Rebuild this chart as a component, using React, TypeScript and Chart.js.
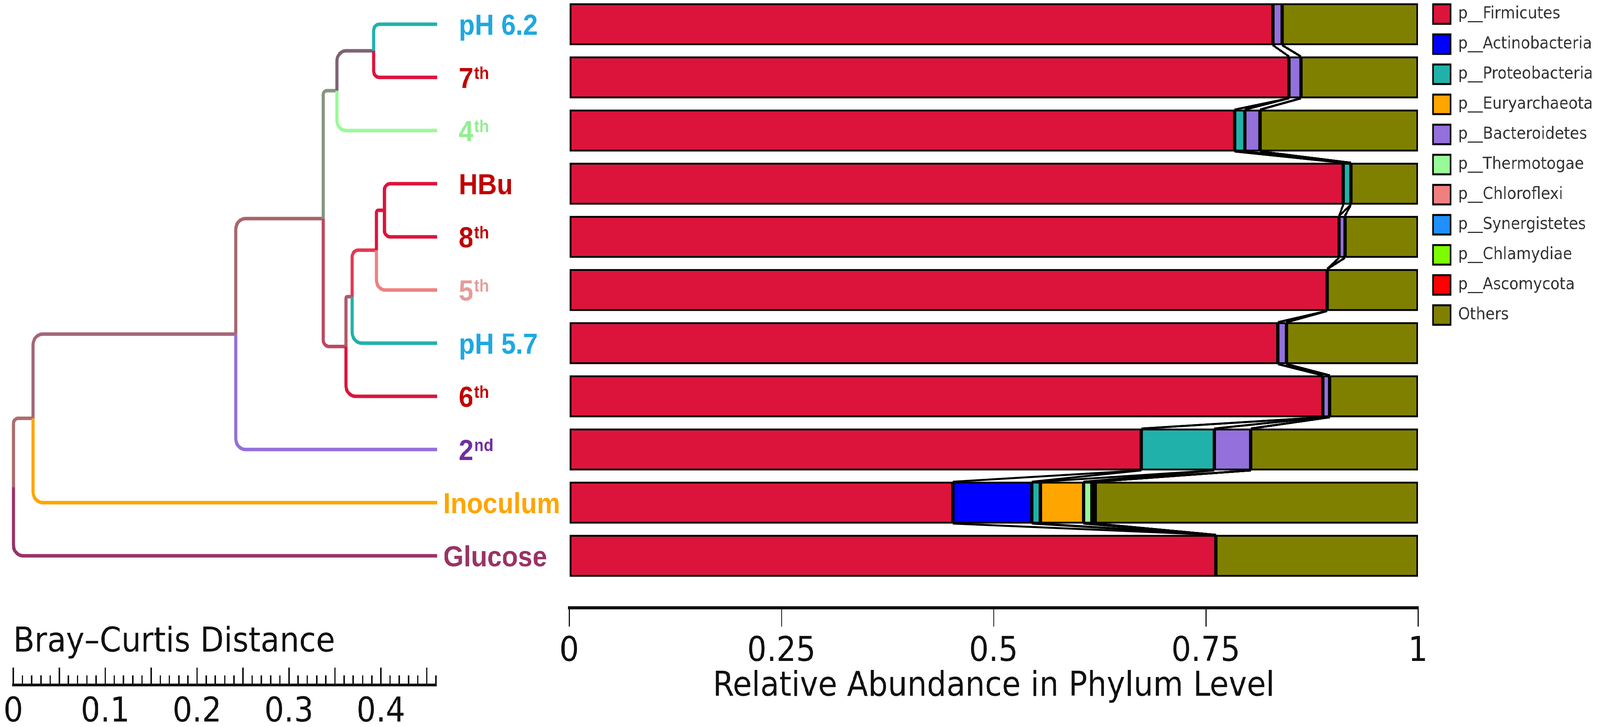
import React, { useEffect, useRef } from 'react';
import { Chart, registerables } from 'chart.js';

Chart.register(...registerables);

// ------------------------------------------------------------------ data
const SAMPLES = ['pH 6.2', '7th', '4th', 'HBu', '8th', '5th', 'pH 5.7', '6th', '2nd', 'Inoculum', 'Glucose'];

const PHYLA = [
  'p__Firmicutes', 'p__Actinobacteria', 'p__Proteobacteria', 'p__Euryarchaeota', 'p__Bacteroidetes',
  'p__Thermotogae', 'p__Chloroflexi', 'p__Synergistetes', 'p__Chlamydiae', 'p__Ascomycota', 'Others',
];
const PHYLA_COLORS = [
  '#DC143C', '#0000FF', '#20B2AA', '#FFA500', '#9370DB',
  '#98FB98', '#F08080', '#1E90FF', '#7CFC00', '#FF0000', '#808000',
];

const FIRMICUTES = [0.829, 0.848, 0.784, 0.912, 0.907, 0.893, 0.835, 0.888, 0.674, 0.452, 0.762];
const ACTINOBACTERIA = [0, 0, 0, 0, 0, 0, 0, 0, 0, 0.093, 0];
const PROTEOBACTERIA = [0, 0, 0.012, 0.009, 0, 0, 0, 0, 0.086, 0.010, 0];
const EURYARCHAEOTA = [0, 0, 0, 0, 0, 0, 0, 0, 0, 0.051, 0];
const BACTEROIDETES = [0.011, 0.014, 0.018, 0, 0.007, 0, 0.010, 0.008, 0.043, 0, 0];
const THERMOTOGAE = [0, 0, 0, 0, 0, 0, 0, 0, 0, 0.010, 0];
const CHLOROFLEXI = [0, 0, 0, 0, 0, 0, 0, 0, 0, 0.004, 0];
const SYNERGISTETES = [0, 0, 0, 0, 0, 0, 0, 0, 0, 0, 0];
const CHLAMYDIAE = [0, 0, 0, 0, 0, 0, 0, 0, 0, 0, 0];
const ASCOMYCOTA = [0, 0, 0, 0, 0, 0, 0, 0, 0, 0, 0];
const OTHERS = [0.160, 0.138, 0.186, 0.079, 0.086, 0.107, 0.155, 0.104, 0.197, 0.380, 0.238];

const ABUNDANCE = [
  FIRMICUTES, ACTINOBACTERIA, PROTEOBACTERIA, EURYARCHAEOTA, BACTEROIDETES,
  THERMOTOGAE, CHLOROFLEXI, SYNERGISTETES, CHLAMYDIAE, ASCOMYCOTA, OTHERS,
];

const ABUNDANCE_TICKS = [0, 0.25, 0.5, 0.75, 1];

// dendrogram merges: leaves are SAMPLES indices, merge m creates node SAMPLES.length + m
const MERGE_A = [0, 11, 3, 13, 14, 15, 12, 17, 18, 19];
const MERGE_B = [1, 2, 4, 5, 6, 7, 16, 8, 9, 10];
const MERGE_HEIGHT = [0.0691, 0.1088, 0.0573, 0.0660, 0.0924, 0.0992, 0.1237, 0.2191, 0.4397, 0.4611];

const DISTANCE_LABELS = [0, 0.1, 0.2, 0.3, 0.4];
const DISTANCE_MAX = 0.46;
const DISTANCE_MINOR = 0.01;
const DISTANCE_MAJOR = 0.05;

const LEAF_BRANCH_COLORS = ['#20B2AA', '#DC143C', '#98FB98', '#DC143C', '#DC143C', '#F08080', '#20B2AA', '#DC143C', '#9370DB', '#FFA500', '#993366'];
const LEAF_LABEL_COLORS = ['#1FA8E0', '#C00000', '#90EE90', '#C00000', '#C00000', '#E59C9C', '#1FA8E0', '#C00000', '#7030A0', '#FFA500', '#993366'];
const LABEL_SHIFT = [0, 0, 0, 0, 0, 0, 0, 0, 0, -44, -44];

// ------------------------------------------------------------------ layout (design pixels)
const W = 4562;
const H = 1860;
const ROW0 = 62;
const ROW_PITCH = 136;
const ROWS_MIN = -ROW0 / ROW_PITCH;
const BAR_AXIS_Y = 1555;
const RULER_Y = 1752;
const BAR_X0 = 1623;
const BAR_X1 = 4043;
const RULER_X0 = 38;
const RULER_PX = 2620;
const LEFT_W = 1600;
const RC_LEFT = 1540;
const RIGHT_W = W - RC_LEFT;
const AXIS_FONT = 88;
const LEGEND_FONT = 43;
const LEGEND_BOX = 50;
const LEGEND_PAD = 27;
const LABEL_SIZE = 75;
const SUP_SIZE = 45;
const LABEL_GAP = 62;
const TEXT = '#111111';
const FAMILY = 'DejaVu Sans';

Chart.defaults.font.family = FAMILY;

function hexToRgb(h: string) {
  const n = parseInt(h.slice(1), 16);
  return [(n >> 16) & 255, (n >> 8) & 255, n & 255];
}
function rgbCss(c: number[]) {
  return `rgb(${c.map((v) => Math.round(v)).join(',')})`;
}

function buildTree() {
  const n = SAMPLES.length;
  const ypos: number[] = SAMPLES.map((_, i) => i);
  const height: number[] = SAMPLES.map(() => 0);
  const count: number[] = SAMPLES.map(() => 1);
  const rgb: number[][] = LEAF_BRANCH_COLORS.map(hexToRgb);
  const branches: { parent: number; child: number }[] = [];
  MERGE_A.forEach((a, m) => {
    const b = MERGE_B[m];
    const id = n + m;
    ypos[id] = (ypos[a] + ypos[b]) / 2;
    height[id] = MERGE_HEIGHT[m];
    count[id] = count[a] + count[b];
    rgb[id] = rgb[a].map((c, j) => (c * count[a] + rgb[b][j] * count[b]) / count[id]);
    branches.push({ parent: id, child: a }, { parent: id, child: b });
  });
  const rootH = MERGE_HEIGHT[MERGE_HEIGHT.length - 1];
  return branches.map(({ parent, child }) => ({
    data: [
      { x: rootH - height[parent], y: ypos[parent] },
      { x: rootH - height[parent], y: ypos[child] },
      { x: rootH - height[child], y: ypos[child] },
    ],
    borderColor: rgbCss(rgb[child]),
    backgroundColor: rgbCss(rgb[child]),
    borderWidth: 9,
    pointRadius: 0,
    showLine: true,
  }));
}

const roundedBranches = {
  id: 'roundedBranches',
  beforeDatasetDraw(chart: any, args: any) {
    const pts = args.meta.data;
    const ds = chart.data.datasets[args.index];
    const ctx = chart.ctx;
    ctx.save();
    ctx.strokeStyle = ds.borderColor;
    ctx.lineWidth = ds.borderWidth;
    ctx.lineCap = 'butt';
    ctx.lineJoin = 'round';
    ctx.beginPath();
    ctx.moveTo(pts[0].x, pts[0].y);
    const v = Math.abs(pts[1].y - pts[0].y);
    const h = Math.abs(pts[2].x - pts[1].x);
    const r = Math.min(28, v / 4, h / 4);
    if (r > 0.5) ctx.arcTo(pts[1].x, pts[1].y, pts[2].x, pts[2].y, r);
    else ctx.lineTo(pts[1].x, pts[1].y);
    ctx.lineTo(pts[2].x, pts[2].y);
    ctx.stroke();
    ctx.restore();
    return false;
  },
};

const leafLabels = {
  id: 'leafLabels',
  afterDatasetsDraw(chart: any) {
    const xs = chart.scales.x;
    const ys = chart.scales.y;
    const ctx = chart.ctx;
    const leafX = xs.getPixelForValue(MERGE_HEIGHT[MERGE_HEIGHT.length - 1]);
    ctx.save();
    ctx.textAlign = 'left';
    ctx.textBaseline = 'alphabetic';
    SAMPLES.forEach((name, i) => {
      const m = name.match(/^(\d+)(st|nd|rd|th)$/);
      const main = m ? m[1] : name;
      const sup = m ? m[2] : '';
      const y = ys.getPixelForValue(i);
      const x = leafX + LABEL_GAP + LABEL_SHIFT[i];
      const base = y + LABEL_SIZE * 0.36;
      ctx.fillStyle = LEAF_LABEL_COLORS[i];
      ctx.font = `bold ${LABEL_SIZE}px "Liberation Sans", Arial, sans-serif`;
      ctx.fillText(main, x, base);
      if (sup) {
        const w = ctx.measureText(main).width;
        ctx.font = `bold ${SUP_SIZE}px "Liberation Sans", Arial, sans-serif`;
        ctx.fillText(sup, x + w + 2, base - LABEL_SIZE * 0.31);
      }
    });
    ctx.restore();
  },
};

const connectors = {
  id: 'connectors',
  afterDatasetsDraw(chart: any) {
    const xs = chart.scales.x;
    const ctx = chart.ctx;
    const meta0 = chart.getDatasetMeta(0);
    ctx.save();
    ctx.strokeStyle = '#000';
    ctx.lineWidth = 5;
    for (let i = 0; i < SAMPLES.length - 1; i++) {
      const a = meta0.data[i];
      const b = meta0.data[i + 1];
      const yA = a.y + a.height / 2;
      const yB = b.y - b.height / 2;
      let cumA = 0;
      let cumB = 0;
      for (let k = 0; k < PHYLA.length - 1; k++) {
        cumA += ABUNDANCE[k][i];
        cumB += ABUNDANCE[k][i + 1];
        ctx.beginPath();
        ctx.moveTo(xs.getPixelForValue(cumA), yA);
        ctx.lineTo(xs.getPixelForValue(cumB), yB);
        ctx.stroke();
      }
    }
    ctx.restore();
  },
};

const legendNudge = {
  id: 'legendNudge',
  afterLayout(chart: any) {
    const l = chart.legend;
    if (l) {
      l.left += 16;
      l.right += 16;
      l.top -= 16;
    }
  },
};

function near(v: number, step: number) {
  return Math.abs(v / step - Math.round(v / step)) < 1e-6;
}

function leftConfig(): any {
  return {
    type: 'scatter',
    data: { datasets: buildTree() },
    options: {
      animation: false,
      responsive: false,
      devicePixelRatio: 1,
      events: [],
      layout: { padding: { left: RULER_X0, right: LEFT_W - (RULER_X0 + DISTANCE_MAX * RULER_PX), top: 0, bottom: 0 } },
      plugins: { legend: { display: false }, tooltip: { enabled: false } },
      scales: {
        x: {
          type: 'linear',
          position: 'bottom',
          min: 0,
          max: DISTANCE_MAX,
          offset: false,
          afterFit: (s: any) => {
            s.height = H - RULER_Y;
            s.paddingLeft = 0;
            s.paddingRight = 0;
          },
          ticks: {
            stepSize: DISTANCE_MINOR,
            autoSkip: false,
            maxRotation: 0,
            padding: 62,
            color: TEXT,
            font: { size: AXIS_FONT },
            callback: (v: number) => {
              const hit = DISTANCE_LABELS.find((d) => Math.abs(d - v) < 1e-6);
              return hit === undefined ? '' : String(hit);
            },
          },
          grid: {
            drawOnChartArea: false,
            drawTicks: true,
            tickLength: -44,
            lineWidth: 4,
            tickWidth: 4,
            tickColor: TEXT,
            tickBorderDash: (c: any) => (c.tick && near(c.tick.value, DISTANCE_MAJOR) ? [] : [28, 400]),
          },
          border: { display: true, width: 7, color: TEXT },
          title: {
            display: true,
            text: 'Bray–Curtis Distance',
            align: 'start',
            color: TEXT,
            font: { size: AXIS_FONT },
            padding: { top: 0, bottom: 163 },
          },
        },
        y: {
          type: 'linear',
          display: false,
          reverse: true,
          offset: false,
          min: ROWS_MIN,
          max: ROWS_MIN + RULER_Y / ROW_PITCH,
        },
      },
    },
    plugins: [roundedBranches, leafLabels],
  };
}

function rightConfig(): any {
  const m = document.createElement('canvas').getContext('2d') as CanvasRenderingContext2D;
  m.font = `${LEGEND_FONT}px ${FAMILY}`;
  const maxW = Math.max(...PHYLA.map((t) => m.measureText(t).width));
  const legendW = LEGEND_PAD + LEGEND_BOX + LEGEND_FONT / 2 + maxW + 10;
  const padRight = Math.max(0, RIGHT_W - (BAR_X1 - RC_LEFT) - legendW);
  return {
    type: 'bar',
    data: {
      datasets: PHYLA.map((name, k) => ({
        label: name,
        data: ABUNDANCE[k].map((v, i) => ({ x: v, y: i })),
        backgroundColor: PHYLA_COLORS[k],
        borderColor: '#000',
        borderWidth: 5,
        borderSkipped: false,
        barThickness: Math.round(ROW_PITCH * 0.787),
        stack: 'all',
      })),
    },
    options: {
      indexAxis: 'y',
      animation: false,
      responsive: false,
      devicePixelRatio: 1,
      events: [],
      layout: { padding: { left: BAR_X0 - RC_LEFT, right: padRight, top: 0, bottom: 0 } },
      plugins: {
        tooltip: { enabled: false },
        legend: {
          position: 'right',
          align: 'start',
          labels: {
            boxWidth: LEGEND_BOX,
            boxHeight: LEGEND_BOX,
            padding: LEGEND_PAD,
            color: '#333333',
            font: { size: LEGEND_FONT },
          },
        },
      },
      scales: {
        x: {
          type: 'linear',
          min: 0,
          max: 1,
          stacked: true,
          offset: false,
          afterBuildTicks: (s: any) => { s.ticks = ABUNDANCE_TICKS.map((v) => ({ value: v })); },
          afterFit: (s: any) => {
            s.height = H - BAR_AXIS_Y;
            s.paddingLeft = 0;
            s.paddingRight = 0;
          },
          ticks: {
            autoSkip: false,
            maxRotation: 0,
            padding: 12,
            color: TEXT,
            font: { size: AXIS_FONT },
            callback: (v: number) => String(v),
          },
          grid: {
            offset: false,
            drawOnChartArea: false,
            drawTicks: true,
            tickLength: 48,
            lineWidth: 3,
            tickWidth: 3,
            tickColor: TEXT,
          },
          border: { display: true, width: 8, color: TEXT },
          title: {
            display: true,
            text: 'Relative Abundance in Phylum Level',
            color: TEXT,
            font: { size: AXIS_FONT },
            padding: { top: 0, bottom: 50 },
          },
        },
        y: {
          type: 'linear',
          display: false,
          reverse: true,
          offset: false,
          grid: { offset: false },
          min: ROWS_MIN,
          max: ROWS_MIN + BAR_AXIS_Y / ROW_PITCH,
        },
      },
    },
    plugins: [connectors, legendNudge],
  };
}

function viewScale() {
  if (typeof window === 'undefined') return [1, 1];
  const iw = window.innerWidth || W;
  const ih = window.innerHeight || H;
  return [iw / W, ih / H];
}

export default function App() {
  const leftRef = useRef<HTMLCanvasElement>(null);
  const rightRef = useRef<HTMLCanvasElement>(null);
  const [kx, ky] = viewScale();
  useEffect(() => {
    const left = new Chart(leftRef.current as HTMLCanvasElement, leftConfig());
    const right = new Chart(rightRef.current as HTMLCanvasElement, rightConfig());
    return () => {
      left.destroy();
      right.destroy();
    };
  }, []);
  return (
    <div
      style={{
        position: 'absolute',
        left: 0,
        top: 0,
        width: W,
        height: H,
        overflow: 'hidden',
        background: '#fff',
        transform: `scale(${kx}, ${ky})`,
        transformOrigin: '0 0',
      }}
    >
      <canvas
        ref={leftRef}
        width={LEFT_W}
        height={H}
        style={{ position: 'absolute', left: 0, top: 0, width: LEFT_W, height: H }}
      />
      <canvas
        ref={rightRef}
        width={RIGHT_W}
        height={H}
        style={{ position: 'absolute', left: RC_LEFT, top: 0, width: RIGHT_W, height: H }}
      />
    </div>
  );
}
